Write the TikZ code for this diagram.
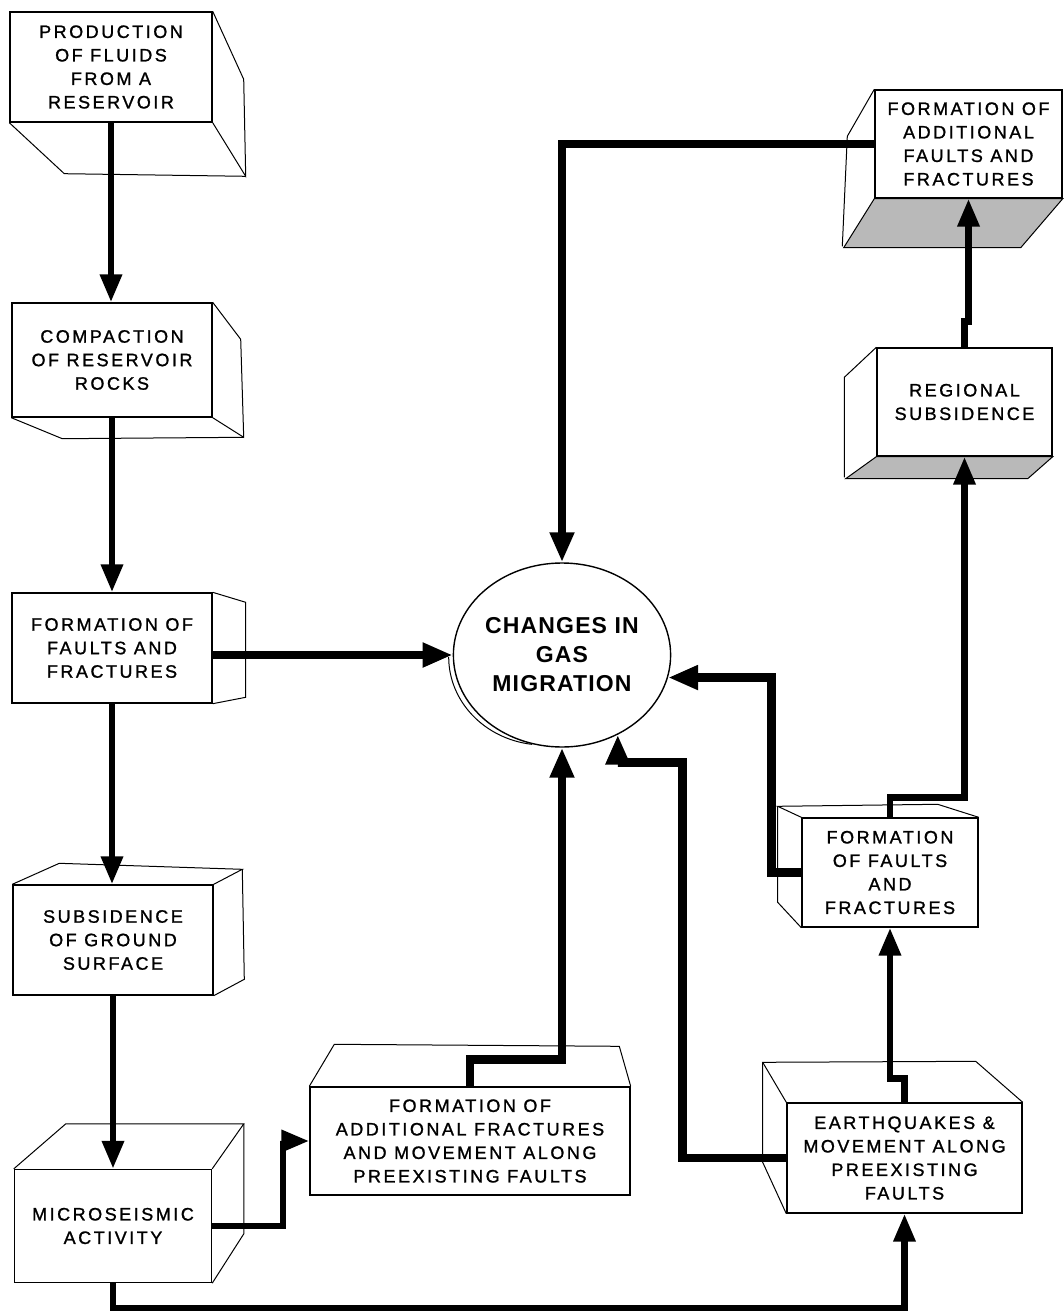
\documentclass[tikz,border=0pt]{standalone}
\usepackage{fontspec}
\setmainfont{Liberation Sans}
\newfontfamily\boxfont{Liberation Sans}[LetterSpace=14, FakeBold=1.2]
\newfontfamily\circfont{Liberation Sans}[LetterSpace=5]
\usetikzlibrary{arrows.meta, shapes.geometric}

\begin{document}
\begin{tikzpicture}[x=1pt, y=-1pt,
		box/.style={draw, line width=1.4pt, fill=white, align=center, inner sep=0pt,
			font=\boxfont\fontsize{18}{23.5}\selectfont},
		face/.style={line width=1pt},
		shadeface/.style={line width=1pt, fill=gray!55},
		arr/.style={line width=8.5pt, -{Triangle[length=30pt,width=23pt]}},
		colarr/.style={line width=6.5pt, -{Triangle[length=28pt,width=21pt]}}]
				\useasboundingbox (0,0) rectangle (1063,1316);
				
				% Левый столбец блоков
				\node[box, minimum width=202pt, minimum height=110pt] (prod) at (111,67) {PRODUCTION\\OF FLUIDS\\FROM A\\RESERVOIR};
				\node[box, minimum width=200pt, minimum height=114pt] (comp) at (112,360) {COMPACTION\\OF RESERVOIR\\ROCKS};
				\node[box, minimum width=200pt, minimum height=110pt] (faultsL) at (112,648) {FORMATION OF\\FAULTS AND\\FRACTURES};
				\node[box, minimum width=200pt, minimum height=110pt] (subs) at (113,940) {SUBSIDENCE\\OF GROUND\\SURFACE};
				\node[box, minimum width=197pt, minimum height=113pt] (micro) at (113,1226) {MICROSEISMIC\\ACTIVITY};
				
				% Нижний и правый блоки
				\node[box, minimum width=320pt, minimum height=108pt] (addfrac) at (470,1141) {FORMATION OF\\ADDITIONAL FRACTURES\\AND MOVEMENT ALONG\\PREEXISTING FAULTS};
				\node[box, minimum width=235pt, minimum height=110pt] (quake) at (904.5,1158) {EARTHQUAKES \&\\MOVEMENT ALONG\\PREEXISTING\\FAULTS};
				\node[box, minimum width=176pt, minimum height=109pt] (faultsR) at (890,872.5) {FORMATION\\OF FAULTS\\AND\\FRACTURES};
				\node[box, minimum width=175pt, minimum height=108pt] (regsub) at (964.5,402) {REGIONAL\\SUBSIDENCE};
				\node[box, minimum width=187pt, minimum height=108pt] (addfault) at (968.5,144) {FORMATION OF\\ADDITIONAL\\FAULTS AND\\FRACTURES};
				
				% Круг в центре
				\node[ellipse, draw, line width=1.4pt, minimum width=195pt, minimum height=184pt, align=center, inner sep=0pt,
					font=\circfont\bfseries\fontsize{23}{29}\selectfont] (migr) at (562,655) {CHANGES IN\\GAS\\MIGRATION};
				\draw[face] (migr.west) ++(-4,2) arc[start angle=180, end angle=97, x radius=95, y radius=88];
				
				% Боковые грани блоков
				\draw[face] (prod.north east) -- ++(31,68) -- ++(2,97) coordinate (prod-b) -- (prod.south east);
				\draw[face] (prod.south west) -- ++(55,51) -- (prod-b);
				\draw[face] (comp.north east) -- ++(28,37) -- ++(3,98) coordinate (comp-b) -- (comp.south east);
				\draw[face] (comp.south west) -- ++(51,21) -- (comp-b);
				\draw[face] (faultsL.north east) -- ++(33,10) -- ++(0,95) -- (faultsL.south east);
				\draw[face] (subs.north west) -- ++(47,-21) -- ++(183,6) coordinate (subs-b) -- (subs.north east);
				\draw[face] (subs-b) -- ++(2,110) -- (subs.south east);
				\draw[face] (micro.north west) -- ++(52,-45) -- ++(178,0) coordinate (micro-b) -- (micro.north east);
				\draw[face] (micro-b) -- ++(0,110) -- (micro.south east);
				\draw[face] (addfrac.north west) -- ++(25,-42) -- ++(285,2) -- (addfrac.north east);
				\draw[face] (quake.north east) -- ++(-47,-41) -- ++(-213,1) coordinate (quake-b) -- (quake.north west);
				\draw[face] (quake-b) -- ++(0,100) -- (quake.south west);
				\draw[face] (faultsR.north east) -- ++(-41,-13) -- ++(-160,2) coordinate (faultsR-b) -- (faultsR.north west);
				\draw[face] (faultsR-b) -- ++(0,96) -- (faultsR.south west);
				\draw[shadeface] (regsub.south west) -- (regsub.south east) -- ++(-25,22) -- ++(-182,0) -- cycle;
				\draw[face] (regsub.north west) -- ++(-32,30) -- ++(0,100);
				\draw[shadeface] (addfault.south west) -- (addfault.south east) -- ++(-42,49) -- ++(-177,0) -- cycle;
				\draw[face] (addfault.north west) -- ++(-27,47) -- ++(-5,110);
				
				% Стрелки левого столбца
				\draw[colarr] (prod) -- (prod |- comp.north);
				\draw[colarr] (comp) -- (comp |- faultsL.north);
				\draw[colarr] (faultsL) -- (faultsL |- subs.north);
				\draw[colarr] (subs) -- (subs |- micro.north);
				
				% Стрелки к кругу
				\draw[arr] (faultsL.east |- migr.west) -- (migr.west);
				\draw[arr] (addfault.west) -| (migr.north);
				\draw[arr] (addfrac.north) -- ++(0,-27) -| (migr.south);
				\draw[arr] (faultsR.west) -- ++(-30,0) |- (migr.-12);
				\draw[arr] (quake.west) -- ++(-104,0) |- ([yshift=-28pt]migr.-55) -- (migr.-55);
				
				% Прочие связи
				\draw[colarr] (micro.east) -- ++(71,0) |- (addfrac.west);
				\draw[colarr] (micro.south) -- ++(0,25) -| (quake.south);
				\draw[colarr] (quake.north) -- ++(0,-24) -| (faultsR.south);
				\draw[colarr] (faultsR.north) -- ++(0,-20) -| (regsub.south);
				\draw[colarr] (regsub.north) -- ++(0,-26) -| (addfault.south);
			\end{tikzpicture}
\end{document}
